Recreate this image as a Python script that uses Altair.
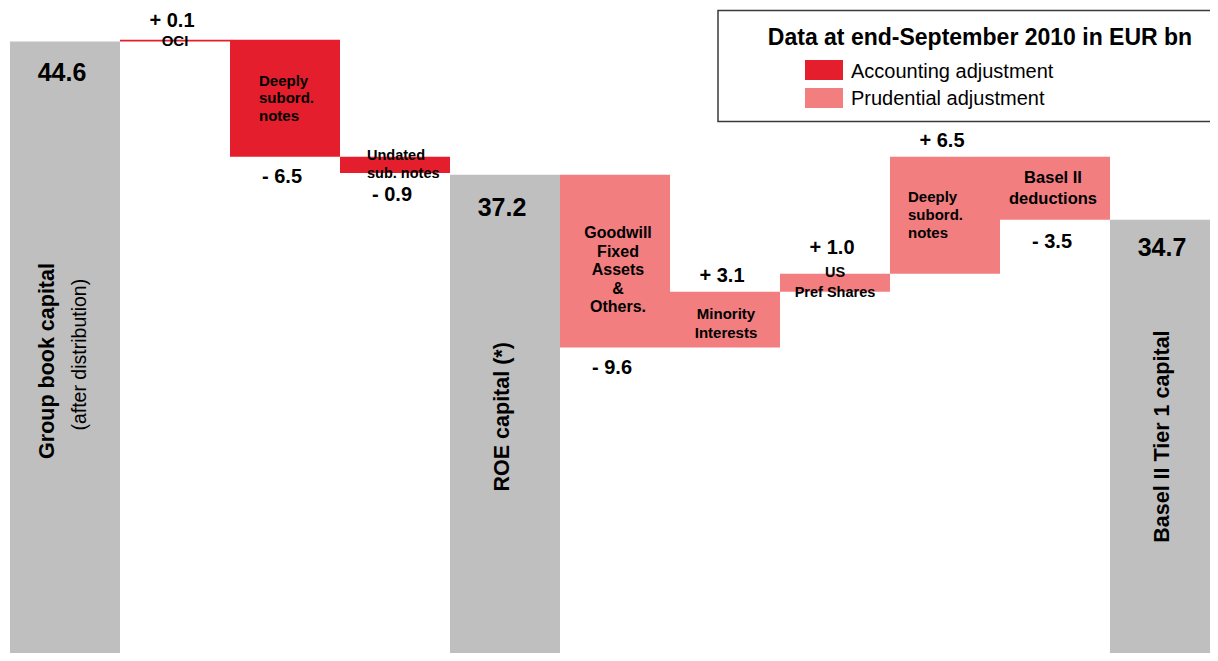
import altair as alt
import pandas as pd

# ---------------- data ----------------
categories = ["Group book capital", "OCI", "Deeply subord. notes (acc.)", "Undated sub. notes",
              "ROE capital", "Goodwill Fixed Assets & Others", "Minority Interests",
              "US Pref Shares", "Deeply subord. notes (prud.)", "Basel II deductions",
              "Basel II Tier 1 capital"]
kinds = ["total", "accounting", "accounting", "accounting", "total", "prudential",
         "prudential", "prudential", "prudential", "prudential", "total"]
values = [44.6, 0.1, -6.5, -0.9, 37.2, -9.6, 3.1, 1.0, 6.5, -3.5, 34.7]
value_labels = ["44.6", "+ 0.1", "- 6.5", "- 0.9", "37.2", "- 9.6", "+ 3.1", "+ 1.0",
                "+ 6.5", "- 3.5", "34.7"]
inner_labels = ["", "OCI", "Deeply\nsubord.\nnotes", "Undated\nsub. notes", "",
                "Goodwill\nFixed\nAssets\n&\nOthers.", "Minority\nInterests", "US\nPref Shares",
                "Deeply\nsubord.\nnotes", "Basel II\ndeductions", ""]
total_titles = ["Group book capital", "ROE capital (*)", "Basel II Tier 1 capital"]
total_subtitles = ["(after distribution)", "", ""]
legend_title = "Data at end-September 2010 in EUR bn"
legend_kinds = ["accounting", "prudential"]
legend_labels = ["Accounting adjustment", "Prudential adjustment"]

# ---------------- styling / layout ----------------
GRAY, RED, PINK = "#BFBFBF", "#E41E2D", "#F37E80"
kind_domain = ["total", "accounting", "prudential"]
kind_colors = [GRAY, RED, PINK]
FONT = "Liberation Sans, Arial, sans-serif"
W, H = 1200, 645
BAR_PX = 110.0                  # pixels per bar slot
PX = 18.0                       # pixels per EUR bn
y_top = values[0] + 33.5 / PX
ys = alt.Scale(domain=[y_top - H / PX, y_top], nice=False, zero=False)
xs = alt.Scale(domain=[0, W / BAR_PX], nice=False, zero=False)

value_gap = [31, 19, 20, 22, 33, 20, 16, 26, 16, 22, 28]       # px from bar edge
inner_dx = [0, 0, 29, 27, 0, 3, 1, 0, 18, -2, 0]                 # px nudges
inner_dy = [0, 0, 0, 0, 0, 9, 4, 0, 0, 0, 0]
inner_left = [False, False, True, True, False, False, False, False, True, False, False]
inner_fs = [15, 15, 15, 14.5, 15, 16, 15, 14.5, 15, 16.5, 15]
inner_lh = [18, 18, 17.5, 18.5, 18, 18.5, 19, 20, 18, 21, 18]
rot_title_dx = [-17, -2, -2]
rot_sub_dx = [15, 0, 0]
rot_title_y = [26.85, 23.75, 22.65]
rot_sub_y = [27.2, 0, 0]

# ---------------- build tables ----------------
bars, vlabs, ilabs = [], [], []
running = 0.0
ti = 0
rot_rows, rot_sub_rows = [], []
for i, (k, v) in enumerate(zip(kinds, values)):
    if k == "total":
        y0, y1 = 0.0, v
        running = v
    else:
        y0, y1 = running, running + v
        running = y1
    lo, hi = min(y0, y1), max(y0, y1)
    bars.append(dict(cat=categories[i], kind=k, x0=i, x1=i + 1, y0=y0, y1=y1))
    if k == "total":
        vy = hi - value_gap[i] / PX
        fs = 25
        rot_rows.append(dict(t=total_titles[ti], x=i + 0.5 + rot_title_dx[ti] / BAR_PX,
                             y=rot_title_y[ti]))
        if total_subtitles[ti]:
            rot_sub_rows.append(dict(t=total_subtitles[ti], x=i + 0.5 + rot_sub_dx[ti] / BAR_PX,
                                     y=rot_sub_y[ti]))
        ti += 1
    elif v >= 0:
        vy = hi + value_gap[i] / PX
        fs = 20
    else:
        vy = lo - value_gap[i] / PX
        fs = 20
    vlabs.append(dict(t=value_labels[i], x=i + 0.5 - 3 / BAR_PX, y=vy, fs=fs))
    if inner_labels[i]:
        n_lines = inner_labels[i].count("\n") + 1
        base_x = i + inner_dx[i] / BAR_PX if inner_left[i] else i + 0.5 + inner_dx[i] / BAR_PX
        # first line position so that the block is centred on the bar middle
        cy = (y0 + y1) / 2 - inner_dy[i] / PX + (n_lines - 1) * inner_lh[i] / 2 / PX
        ilabs.append(dict(t=inner_labels[i], x=base_x, y=cy, fs=inner_fs[i],
                          left=inner_left[i], lh=inner_lh[i]))

bars_df = pd.DataFrame(bars)
vl_df = pd.DataFrame(vlabs)
il_df = pd.DataFrame(ilabs)

X = lambda f: alt.X(f, scale=xs, axis=None)
Y = lambda f: alt.Y(f, scale=ys, axis=None)

bar_layer = alt.Chart(bars_df).mark_rect(clip=True).encode(
    x=X("x0:Q"), x2="x1", y=Y("y0:Q"), y2="y1",
    color=alt.Color("kind:N", scale=alt.Scale(domain=kind_domain, range=kind_colors), legend=None),
)

val_layer = alt.Chart(vl_df).mark_text(font=FONT, fontWeight="bold", color="#000",
                                       align="center", baseline="middle").encode(
    x=X("x:Q"), y=Y("y:Q"), text="t:N", size=alt.Size("fs:Q", scale=None, legend=None))

inner_layers = []
for _, r in il_df.iterrows():
    inner_layers.append(
        alt.Chart(pd.DataFrame([dict(t=r.t, x=r.x, y=r.y)])).mark_text(
            font=FONT, fontWeight="bold", color="#000", fontSize=float(r.fs),
            align="left" if r.left else "center", baseline="middle",
            lineBreak="\n", lineHeight=float(r.lh)).encode(
            x=X("x:Q"), y=Y("y:Q"), text="t:N"))

rot_layer = alt.Chart(pd.DataFrame(rot_rows)).mark_text(
    font=FONT, fontWeight="bold", fontSize=21.5, color="#000", angle=270,
    align="center", baseline="middle").encode(x=X("x:Q"), y=Y("y:Q"), text="t:N")

rot_sub_layer = alt.Chart(pd.DataFrame(rot_sub_rows)).mark_text(
    font=FONT, fontWeight="normal", fontSize=19.5, color="#000", angle=270,
    align="center", baseline="middle").encode(x=X("x:Q"), y=Y("y:Q"), text="t:N")

# ---------------- legend box (drawn) ----------------
one = pd.DataFrame({"a": [0]})
legend_layers = [
    alt.Chart(one).mark_rect(fill="white", stroke="#3a3a3a", strokeWidth=1.5).encode(
        x=alt.value(708), x2=alt.value(1240), y=alt.value(2.5), y2=alt.value(113.5)),
    alt.Chart(pd.DataFrame({"t": [legend_title]})).mark_text(
        font=FONT, fontWeight="bold", fontSize=23, color="#000", align="center",
        baseline="middle").encode(text="t:N", x=alt.value(970), y=alt.value(30.3)),
]
sw_y = [52, 80]
lab_y = [64, 91]
color_of = dict(zip(kind_domain, kind_colors))
for j, (kk, lab) in enumerate(zip(legend_kinds, legend_labels)):
    legend_layers.append(alt.Chart(one).mark_rect(fill=color_of[kk]).encode(
        x=alt.value(795), x2=alt.value(833), y=alt.value(sw_y[j]), y2=alt.value(sw_y[j] + 20)))
    legend_layers.append(alt.Chart(pd.DataFrame({"t": [lab]})).mark_text(
        font=FONT, fontSize=20, color="#000", align="left", baseline="middle").encode(
        text="t:N", x=alt.value(841), y=alt.value(lab_y[j])))

chart = alt.layer(bar_layer, val_layer, *inner_layers, rot_layer, rot_sub_layer,
                  *legend_layers).properties(
    width=W, height=H, autosize="none",
    padding={"left": 2, "top": 0, "right": 0, "bottom": 0},
    background="white",
).configure_view(stroke=None)

chart.save("out.html", embed_options={"renderer": "svg", "actions": False})
